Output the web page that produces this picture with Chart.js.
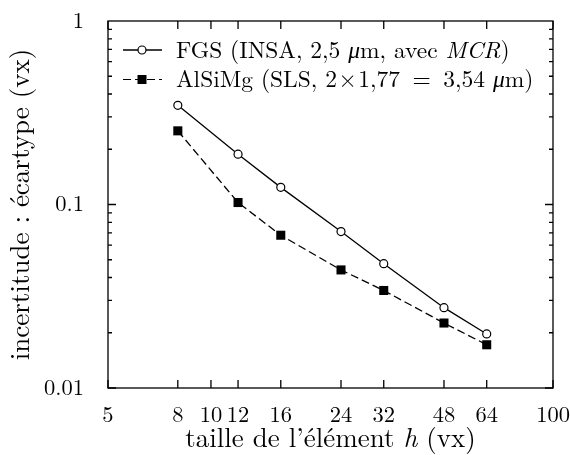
<!DOCTYPE html>
<html>
<head>
<meta charset="utf-8">
<script src="https://cdn.jsdelivr.net/npm/chart.js@4.4.0/dist/chart.umd.min.js"></script>
<style>
  html, body { margin: 0; padding: 0; background: #fff; }
</style>
</head>
<body>
<canvas id="chart" width="570" height="455"></canvas>
<script>
// taille de l'élément h (vx)
const tailles = [8, 12, 16, 24, 32, 48, 64];
// écart type (vx)
const fgs = [0.347, 0.188, 0.124, 0.0712, 0.0476, 0.0274, 0.0197];
const alsimg = [0.252, 0.1025, 0.068, 0.044, 0.034, 0.0226, 0.0172];

const xTicks = [5, 8, 10, 12, 16, 24, 32, 48, 64, 100];
const yTicks = [0.01, 0.1, 1];

const SERIF = "Latin Modern Roman";
const LEG = 23.5, TIT = 27, TCK = 22.5;

function drawRich(ctx, parts, x, y, size) {
  for (const p of parts) {
    ctx.font = (p.it ? "italic " : "") + size + "px " + SERIF;
    ctx.fillText(p.t, x, y);
    x += ctx.measureText(p.t).width;
  }
}

const cadre = {
  id: "cadre",
  afterDraw(chart) {
    const ctx = chart.ctx;
    const a = chart.chartArea;
    const xs = chart.scales.x, ys = chart.scales.y;
    ctx.save();
    ctx.strokeStyle = "#000";
    ctx.lineWidth = 1.3;
    ctx.strokeRect(a.left, a.top, a.right - a.left, a.bottom - a.top);
    ctx.beginPath();
    for (const v of xTicks) {
      const px = xs.getPixelForValue(v);
      ctx.moveTo(px, a.bottom); ctx.lineTo(px, a.bottom - 8);
      ctx.moveTo(px, a.top); ctx.lineTo(px, a.top + 8);
    }
    for (let d = 0.01; d < 1; d *= 10) {
      for (let m = 1; m < 10; m++) {
        const py = ys.getPixelForValue(d * m);
        const len = m === 1 ? 8 : 4;
        ctx.moveTo(a.left, py); ctx.lineTo(a.left + len, py);
        ctx.moveTo(a.right, py); ctx.lineTo(a.right - len, py);
      }
    }
    ctx.stroke();

    // légende
    ctx.fillStyle = "#000";
    ctx.textBaseline = "alphabetic";
    const lx0 = a.left + 15, lx1 = a.left + 54, tx = a.left + 68;
    const rows = [
      { y: a.top + 29, dash: [], parts: [
        { t: "FGS (INSA, 2,5 " }, { t: "\u03bc", it: true }, { t: "m, avec " },
        { t: "MCR", it: true }, { t: ")" }] },
      { y: a.top + 58.5, dash: [8, 4], parts: [
        { t: "AlSiMg (SLS, 2\u200a\u00d7\u200a1,77 \u2009=\u2009 3,54 " }, { t: "\u03bc", it: true }, { t: "m)" }] }
    ];
    rows.forEach((r, i) => {
      ctx.setLineDash(r.dash);
      ctx.beginPath();
      ctx.moveTo(lx0, r.y); ctx.lineTo(lx1, r.y);
      ctx.stroke();
      ctx.setLineDash([]);
      const cx = a.left + 34;
      if (i === 0) {
        ctx.beginPath();
        ctx.arc(cx, r.y, 4, 0, Math.PI * 2);
        ctx.fillStyle = "#fff"; ctx.fill();
        ctx.lineWidth = 1.2; ctx.stroke();
        ctx.fillStyle = "#000";
      } else {
        ctx.fillRect(cx - 4.5, r.y - 4.5, 9, 9);
      }
      drawRich(ctx, r.parts, tx, r.y + 7.5, LEG);
    });

    // titres des axes
    const xp = [{ t: "taille de l\u2019\u00e9l\u00e9ment " }, { t: "h", it: true }, { t: " (vx)" }];
    let w = 0;
    for (const p of xp) { ctx.font = (p.it ? "italic " : "") + TIT + "px " + SERIF; w += ctx.measureText(p.t).width; }
    drawRich(ctx, xp, (a.left + a.right) / 2 - w / 2, 447, TIT);

    ctx.translate(29, (a.top + a.bottom) / 2);
    ctx.rotate(-Math.PI / 2);
    ctx.font = TIT + "px " + SERIF;
    ctx.textAlign = "center";
    ctx.fillText("incertitude : \u00e9cartype (vx)", 0, 0);
    ctx.restore();
  }
};

new Chart(document.getElementById("chart"), {
  type: "line",
  data: {
    datasets: [
      {
        label: "FGS (INSA, 2,5 \u03bcm, avec MCR)",
        data: tailles.map((t, i) => ({ x: t, y: fgs[i] })),
        borderColor: "#000",
        borderWidth: 1.3,
        pointStyle: "circle",
        pointRadius: 4,
        pointBackgroundColor: "#fff",
        pointBorderColor: "#000",
        pointBorderWidth: 1.2,
        fill: false,
        tension: 0
      },
      {
        label: "AlSiMg (SLS, 2\u00d71,77 = 3,54 \u03bcm)",
        data: tailles.map((t, i) => ({ x: t, y: alsimg[i] })),
        borderColor: "#000",
        borderWidth: 1.3,
        borderDash: [8, 4],
        pointStyle: "rect",
        pointRadius: 6.4,
        pointBackgroundColor: "#000",
        pointBorderColor: "#000",
        pointBorderWidth: 0,
        fill: false,
        tension: 0
      }
    ]
  },
  options: {
    responsive: false,
    animation: false,
    layout: { padding: { top: 21, right: 17, left: 0, bottom: 0 } },
    plugins: { legend: { display: false }, tooltip: { enabled: false } },
    scales: {
      x: {
        type: "logarithmic",
        min: 5,
        max: 100,
        afterBuildTicks: (s) => { s.ticks = xTicks.map(v => ({ value: v })); },
        afterFit: (s) => { s.height = 67; s.paddingLeft = 0; s.paddingRight = 0; },
        grid: { display: false },
        border: { display: false },
        ticks: {
          autoSkip: false,
          maxRotation: 0,
          padding: 6,
          color: "#000",
          font: { family: SERIF, size: TCK },
          callback: (v) => String(v)
        }
      },
      y: {
        type: "logarithmic",
        min: 0.01,
        max: 1,
        afterBuildTicks: (s) => { s.ticks = yTicks.map(v => ({ value: v })); },
        afterFit: (s) => { s.width = 108; s.paddingTop = 0; s.paddingBottom = 0; },
        grid: { display: false },
        border: { display: false },
        ticks: {
          padding: 16,
          color: "#000",
          font: { family: SERIF, size: TCK },
          callback: (v) => String(v)
        }
      }
    }
  },
  plugins: [cadre]
});
</script>
</body>
</html>
